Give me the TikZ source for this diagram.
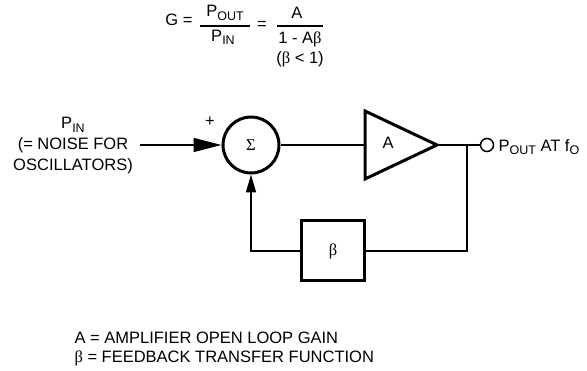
\documentclass[tikz,border=0pt]{standalone}
\usepackage{fontspec}
\setmainfont{Liberation Sans}
\newfontfamily\seriffont{Liberation Serif}
\usetikzlibrary{arrows.meta}
\newcommand\sbs[1]{\raisebox{-0.2em}{\fontsize{12.5}{13}\selectfont #1}}
\begin{document}
\begin{tikzpicture}[x=1pt,y=-1pt,
  every node/.style={font=\fontsize{16.5}{21}\selectfont},
  heavy/.style={draw, line width=3pt},
  wire/.style={line width=1.5pt},
  bar/.style={line width=1.2pt}]
\useasboundingbox (0,0) rectangle (587,371);

% formula
\node (geq) at (179,20) {G =};
\node (pout) at (225,13) {P\sbs{OUT}};
\coordinate (b1l) at (200,26); \coordinate (b1r) at (250,26);
\draw[bar] (b1l) -- (b1r);
\node (pin1) at (223,37) {P\sbs{IN}};
\node (eq2) at (262,25) {=};
\node (numA) at (297,13) {A};
\coordinate (b2l) at (277,26); \coordinate (b2r) at (323,26);
\draw[bar] (b2l) -- (b2r);
\node (den) at (300,39) {1 - A{\seriffont β}};
\node (cond) at (300,59) {({\seriffont β} < 1)};

% blocks
\node[circle, heavy, minimum size=56pt, inner sep=0pt] (sum) at (251,145) {\seriffont Σ};
\coordinate (ampin) at (365,145);
\coordinate (ampout) at (437,145);
\draw[line width=3pt, line join=miter] (365,111) -- (ampout) -- (365,179) -- cycle;
\node (amplbl) at (388,143) {A};
\node[heavy, minimum width=63pt, minimum height=60pt] (beta) at (333,251) {\seriffont β};
\node[circle, draw, line width=1.5pt, minimum size=13pt, inner sep=0pt] (out) at (487,145) {};

% labels
\node[anchor=west] (outlbl) at (495,147) {P\sbs{OUT} AT f\sbs{O}};
\node (plus) at (210,122) {+};
\node[align=center] (inlbl) at (73,146) {P\sbs{IN}\\(= NOISE FOR\\OSCILLATORS)};
\node[anchor=west, align=left, font=\fontsize{16.5}{19.5}\selectfont] (legend) at (71,349) {A = AMPLIFIER OPEN LOOP GAIN\\{\seriffont β} = FEEDBACK TRANSFER FUNCTION};

% connectors
\coordinate (inl) at (140,145);
\coordinate (jn) at (467,145);
\draw[wire, -{Triangle[length=28pt,width=14pt]}] (inl) -- (sum.west);
\draw[wire] (sum.east) -- (ampin);
\draw[wire] (ampout) -- (out.west);
\draw[wire] (jn) |- (beta.east);
\draw[wire, -{Triangle[length=18pt,width=10pt]}] (beta.west) -| (sum.south);
\end{tikzpicture}
\end{document}
